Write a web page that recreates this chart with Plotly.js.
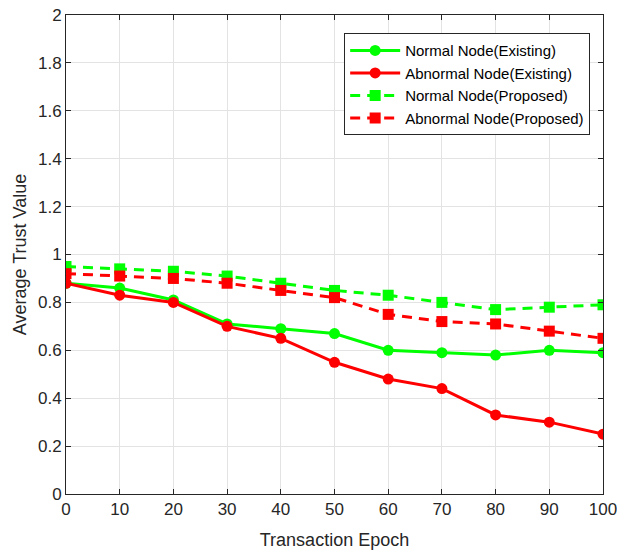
<!DOCTYPE html>
<html><head><meta charset="utf-8">
<script src="https://cdn.plot.ly/plotly-3.0.1.min.js"></script>
<style>html,body{margin:0;padding:0;background:#fff}#chart{width:617px;height:555px}</style>
</head><body><div id="chart"></div>
<script>
var epochs = [0,10,20,30,40,50,60,70,80,90,100];
var normalExisting = [0.88,0.86,0.81,0.71,0.69,0.67,0.60,0.59,0.58,0.60,0.59];
var abnormalExisting = [0.88,0.83,0.80,0.70,0.65,0.55,0.48,0.44,0.33,0.30,0.25];
var normalProposed = [0.95,0.94,0.93,0.91,0.88,0.85,0.83,0.80,0.77,0.78,0.79];
var abnormalProposed = [0.92,0.91,0.90,0.88,0.85,0.82,0.75,0.72,0.71,0.68,0.65];
var yTicks = [0,0.2,0.4,0.6,0.8,1,1.2,1.4,1.6,1.8,2];
var xTicks = [0,10,20,30,40,50,60,70,80,90,100];

var G = '#00ff00', R = '#ff0000';
var traces = [
 {x:epochs,y:normalExisting,name:'Normal Node(Existing)',mode:'lines+markers',line:{color:G,width:3},marker:{symbol:'circle',size:11,color:G}},
 {x:epochs,y:abnormalExisting,name:'Abnormal Node(Existing)',mode:'lines+markers',line:{color:R,width:3},marker:{symbol:'circle',size:11,color:R}},
 {x:epochs,y:normalProposed,name:'Normal Node(Proposed)',mode:'lines+markers',line:{color:G,width:3,dash:'10px,7px'},marker:{symbol:'square',size:11,color:G}},
 {x:epochs,y:abnormalProposed,name:'Abnormal Node(Proposed)',mode:'lines+markers',line:{color:R,width:3,dash:'10px,7px'},marker:{symbol:'square',size:11,color:R}}
];
var axisCommon = {showline:true,mirror:'ticks',linecolor:'#262626',linewidth:1,ticks:'inside',ticklen:5,tickcolor:'#262626',
  showgrid:true,gridcolor:'#e3e3e3',gridwidth:1,zeroline:false,ticklabeloverflow:'allow',
  tickfont:{family:'Liberation Sans, Arial',size:17,color:'#262626'}};
var layout = {
  width:617,height:555,paper_bgcolor:'#fff',plot_bgcolor:'#fff',
  margin:{l:66,r:14,t:15,b:61},
  font:{family:'Liberation Sans, Arial',color:'#262626'},
  xaxis:Object.assign({},axisCommon,{range:[0,100],tickvals:xTicks,title:{text:'Transaction Epoch',font:{size:18,color:'#262626'},standoff:14}}),
  yaxis:Object.assign({},axisCommon,{range:[0,2],tickvals:yTicks,ticktext:yTicks.map(String),title:{text:'Average Trust Value',font:{size:18,color:'#262626'},standoff:6}}),
  showlegend:true,
  legend:{x:0.518,y:0.962,xanchor:'left',yanchor:'top',bgcolor:'#fff',bordercolor:'#262626',borderwidth:1,
    font:{size:15,color:'#000'},itemwidth:50,tracegroupgap:0}
};
Plotly.newPlot('chart',traces,layout,{displayModeBar:false,staticPlot:true});
</script></body></html>
